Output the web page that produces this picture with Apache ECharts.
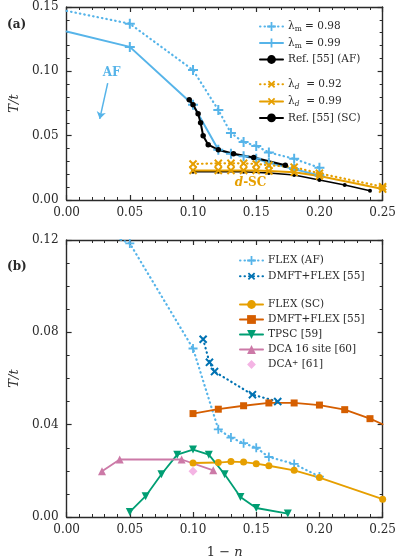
<!DOCTYPE html>
<html>
<head>
<meta charset="utf-8">
<script src="https://cdn.jsdelivr.net/npm/echarts@6/dist/echarts.min.js"></script>
<style>
  html, body { margin: 0; padding: 0; background: #fff; }
  #main { width: 399px; height: 560px; }
</style>
</head>
<body>
<div id="main"></div>
<script>
// panel (a) data
var xLamM = [0, 0.05, 0.10, 0.12, 0.13, 0.14, 0.15, 0.16, 0.18, 0.20];
var lamM098 = [0.147, 0.137, 0.101, 0.070, 0.052, 0.045, 0.042, 0.037, 0.032, 0.025];
var lamM099 = [0.131, 0.119, 0.074, 0.039, 0.036, 0.034, 0.032, 0.029, 0.024, 0.019];
var xRefAF = [0.097, 0.100, 0.104, 0.106, 0.108, 0.112, 0.120, 0.132, 0.148, 0.173];
var refAF = [0.078, 0.074, 0.067, 0.060, 0.050, 0.043, 0.039, 0.036, 0.033, 0.027];
var xRefSC = [0.10, 0.12, 0.14, 0.16, 0.18, 0.20, 0.22, 0.24];
var refSC = [0.022, 0.022, 0.022, 0.021, 0.0194, 0.0155, 0.0117, 0.0072];
var xLamD = [0.10, 0.12, 0.13, 0.14, 0.15, 0.16, 0.18, 0.20, 0.25];
var lamD092 = [0.028, 0.0285, 0.0285, 0.0285, 0.028, 0.027, 0.0255, 0.0207, 0.0103];
var lamD099 = [0.023, 0.023, 0.023, 0.023, 0.023, 0.0225, 0.0215, 0.0187, 0.0085];

// panel (b) data
var xFlexAF = [0, 0.05, 0.10, 0.12, 0.13, 0.14, 0.15, 0.16, 0.18, 0.20];
var flexAF = [0.130, 0.1185, 0.073, 0.038, 0.0344, 0.032, 0.030, 0.026, 0.023, 0.0175];
var xDmftAF = [0.108, 0.113, 0.117, 0.147, 0.167];
var dmftAF = [0.077, 0.067, 0.063, 0.053, 0.050];
var xFlexSC = [0.10, 0.12, 0.13, 0.14, 0.15, 0.16, 0.18, 0.20, 0.25];
var flexSC = [0.0234, 0.0236, 0.0240, 0.0238, 0.0231, 0.0222, 0.0202, 0.0171, 0.0077];
var xDmftSC = [0.10, 0.12, 0.14, 0.16, 0.18, 0.20, 0.22, 0.24, 0.25];
var dmftSC = [0.0448, 0.0467, 0.0482, 0.0494, 0.0494, 0.0485, 0.0465, 0.0426, 0.0402];
var xTpsc = [0.05, 0.0625, 0.075, 0.0875, 0.10, 0.1125, 0.125, 0.1375, 0.15, 0.175];
var tpsc = [0.0022, 0.009, 0.0185, 0.027, 0.0292, 0.027, 0.0185, 0.0087, 0.0039, 0.0015];
var xDca16 = [0.028, 0.042, 0.091, 0.116];
var dca16 = [0.0198, 0.0249, 0.0249, 0.0202];
var xDcaPlus = [0.10];
var dcaPlus = [0.0198];

var FONT = 'DejaVu Serif';
var INK = '#2a2a2a';
var PLUS = 'path://M4,0H6V4H10V6H6V10H4V6H0V4H4Z';
var DOTS = [0.5, 4];
var BLUE = '#56B4E9', ORANGE = '#E69F00', DBLUE = '#0072B2', VERM = '#D55E00',
    GREEN = '#009E73', PINK = '#CC79A7', LPINK = '#F4B4E4';

function pairs(xs, ys, noFirstSym, noLastSym) {
  return xs.map(function (x, i) {
    var d = { value: [x, ys[i]] };
    if ((noFirstSym && i === 0) || (noLastSym && i === xs.length - 1)) d.symbol = 'none';
    return d;
  });
}

var myChart = echarts.init(document.getElementById('main'));

function xAx(grid, pos, showLabel, name) {
  var a = {
    type: 'value', gridIndex: grid, position: pos, min: 0, max: 0.25, interval: 0.05,
    axisLine: { show: true, onZero: false, lineStyle: { color: INK, width: 1.4 } },
    axisTick: { show: true, inside: true, length: 5, lineStyle: { color: INK, width: 1.2 } },
    minorTick: { show: true, splitNumber: 5, length: 3, lineStyle: { color: INK, width: 1 } },
    splitLine: { show: false },
    axisLabel: { show: showLabel, margin: 7, color: INK, fontFamily: FONT, fontSize: 12,
      formatter: function (v) { return v.toFixed(2); } }
  };
  if (name) {
    a.name = name;
    a.nameLocation = 'middle';
    a.nameGap = 29;
    a.nameTextStyle = { color: INK, fontFamily: FONT, fontSize: 13,
      rich: { i: { fontStyle: 'italic', fontFamily: FONT, fontSize: 13, color: INK } } };
  }
  return a;
}
function yAx(grid, pos, max, interval, minor, showLabel, name) {
  var a = {
    type: 'value', gridIndex: grid, position: pos, min: 0, max: max, interval: interval,
    axisLine: { show: true, onZero: false, lineStyle: { color: INK, width: 1.4 } },
    axisTick: { show: true, inside: true, length: 5, lineStyle: { color: INK, width: 1.2 } },
    minorTick: { show: true, splitNumber: minor, length: 3, lineStyle: { color: INK, width: 1 } },
    splitLine: { show: false },
    axisLabel: { show: showLabel, margin: 8, color: INK, fontFamily: FONT, fontSize: 12,
      formatter: function (v) { return v.toFixed(2); } }
  };
  if (name) {
    a.name = name;
    a.nameLocation = 'middle';
    a.nameGap = 40;
    a.nameRotate = 90;
    a.nameTextStyle = { color: INK, fontFamily: FONT, fontSize: 13, fontStyle: 'italic' };
  }
  return a;
}

function lineSeries(name, xi, yi, data, color, dotted, symbol, size, rotate, width) {
  return {
    name: name, type: 'line', xAxisIndex: xi, yAxisIndex: yi, data: data,
    symbol: symbol, symbolSize: size, symbolRotate: rotate || 0,
    clip: true,
    itemStyle: { color: color },
    lineStyle: { color: color, width: dotted ? 2.2 : (width || 2), type: dotted ? DOTS : 'solid', cap: 'round' },
    emphasis: { disabled: true },
    animation: false
  };
}

var legendText = {
  lm98: '{t|λ}{s|m}{t| = 0.98}',
  lm99: '{t|λ}{s|m}{t| = 0.99}',
  refAF: 'Ref. [55] (AF)',
  ld92: '{t|λ}{si|d}{t|  = 0.92}',
  ld99: '{t|λ}{si|d}{t|  = 0.99}',
  refSC: 'Ref. [55] (SC)',
  flexAF: 'FLEX (AF)',
  dmftAF: 'DMFT+FLEX [55]',
  flexSC: 'FLEX (SC)',
  dmftSC: 'DMFT+FLEX [55]',
  tpsc: 'TPSC [59]',
  dca16: 'DCA 16 site [60]',
  dcaPlus: 'DCA{sup|+} [61]'
};
var legendRich = {
  t: { fontFamily: FONT, fontSize: 10.5, color: INK, lineHeight: 14 },
  s: { fontFamily: FONT, fontSize: 7.5, color: INK, lineHeight: 9, verticalAlign: 'bottom' },
  si: { fontFamily: FONT, fontSize: 7.5, color: INK, fontStyle: 'italic', lineHeight: 9, verticalAlign: 'bottom' },
  sup: { fontFamily: FONT, fontSize: 7.5, color: INK, lineHeight: 9, verticalAlign: 'top' }
};
function legend(data, left, top) {
  return {
    data: data, left: left, top: top, orient: 'vertical', itemGap: 4,
    itemWidth: 23, itemHeight: 11, selectedMode: false,
    formatter: function (n) { return legendText[n]; },
    textStyle: { fontFamily: FONT, fontSize: 10.5, color: INK, rich: legendRich }
  };
}

var s98 = lineSeries('lm98', 0, 0, pairs(xLamM, lamM098, true), BLUE, true, PLUS, 10);
var s99 = lineSeries('lm99', 0, 0, pairs(xLamM, lamM099, true), BLUE, false, PLUS, 10);
s99.markLine = {
  silent: true, symbol: ['none', 'arrow'], symbolSize: 7, animation: false,
  label: { show: false },
  lineStyle: { color: BLUE, width: 1.5, type: 'solid' },
  itemStyle: { color: BLUE },
  data: [[{ coord: [0.0325, 0.0909] }, { coord: [0.0262, 0.0630] }]]
};
s99.markPoint = {
  silent: true, symbol: 'circle', symbolSize: 0, animation: false,
  label: { show: true, position: 'inside', formatter: 'AF', color: BLUE, fontFamily: FONT, fontWeight: 'bold', fontSize: 12 },
  data: [{ coord: [0.0356, 0.0987] }]
};
var sD99 = lineSeries('ld99', 0, 0, pairs(xLamD, lamD099), ORANGE, false, PLUS, 10, 45);
sD99.markPoint = {
  silent: true, symbol: 'circle', symbolSize: 0, animation: false,
  label: { show: true, position: 'inside', formatter: '{i|d}{n|-SC}',
    rich: { i: { color: ORANGE, fontFamily: FONT, fontWeight: 'bold', fontStyle: 'italic', fontSize: 12 },
            n: { color: ORANGE, fontFamily: FONT, fontWeight: 'bold', fontSize: 12 } } },
  data: [{ coord: [0.1455, 0.0132] }]
};

var sDcaPlus = lineSeries('dcaPlus', 2, 2, pairs(xDcaPlus, dcaPlus), LPINK, false, 'diamond', 9);
sDcaPlus.lineStyle = { opacity: 0, width: 0 };
sDcaPlus.showSymbol = true;

var option = {
  backgroundColor: '#fff',
  animation: false,
  title: [
    { text: '(a)', left: 2, top: 14, textStyle: { fontFamily: FONT, fontSize: 12, fontWeight: 'bold', color: INK } },
    { text: '(b)', left: 2, top: 256, textStyle: { fontFamily: FONT, fontSize: 12, fontWeight: 'bold', color: INK } }
  ],
  grid: [
    { left: 62, right: 14, top: 7, height: 193, containLabel: false },
    { left: 62, right: 14, top: 240, height: 277, containLabel: false }
  ],
  xAxis: [
    xAx(0, 'bottom', true),
    xAx(0, 'top', false),
    xAx(1, 'bottom', true, '1 − {i|n}'),
    xAx(1, 'top', false)
  ],
  yAxis: [
    yAx(0, 'left', 0.15, 0.05, 5, true, 'T/t'),
    yAx(0, 'right', 0.15, 0.05, 5, false),
    yAx(1, 'left', 0.12, 0.04, 4, true, 'T/t'),
    yAx(1, 'right', 0.12, 0.04, 4, false)
  ],
  legend: [
    legend(['lm98', 'lm99', 'refAF'], 254, 16),
    legend(['ld92', 'ld99', 'refSC'], 254, 73),
    legend(['flexAF', 'dmftAF'], 234, 250),
    legend(['flexSC', 'dmftSC', 'tpsc', 'dca16', 'dcaPlus'], 234, 294)
  ],
  series: [
    s98,
    s99,
    lineSeries('refAF', 0, 0, pairs(xRefAF, refAF), '#000', false, 'circle', 5.5),
    lineSeries('refSC', 0, 0, pairs(xRefSC, refSC), '#000', false, 'circle', 4, 0, 1.6),
    lineSeries('ld92', 0, 0, pairs(xLamD, lamD092), ORANGE, true, PLUS, 10, 45),
    sD99,

    lineSeries('flexAF', 2, 2, pairs(xFlexAF, flexAF), BLUE, true, PLUS, 9),
    lineSeries('dmftAF', 2, 2, pairs(xDmftAF, dmftAF), DBLUE, true, PLUS, 10, 45),
    lineSeries('flexSC', 2, 2, pairs(xFlexSC, flexSC), ORANGE, false, 'circle', 7, 0, 1.8),
    lineSeries('dmftSC', 2, 2, pairs(xDmftSC, dmftSC, false, true), VERM, false, 'rect', 7, 0, 1.8),
    lineSeries('tpsc', 2, 2, pairs(xTpsc, tpsc), GREEN, false, 'triangle', 8, 180, 1.8),
    lineSeries('dca16', 2, 2, pairs(xDca16, dca16), PINK, false, 'triangle', 8, 0, 1.8),
    sDcaPlus
  ]
};

myChart.setOption(option);
</script>
</body>
</html>
